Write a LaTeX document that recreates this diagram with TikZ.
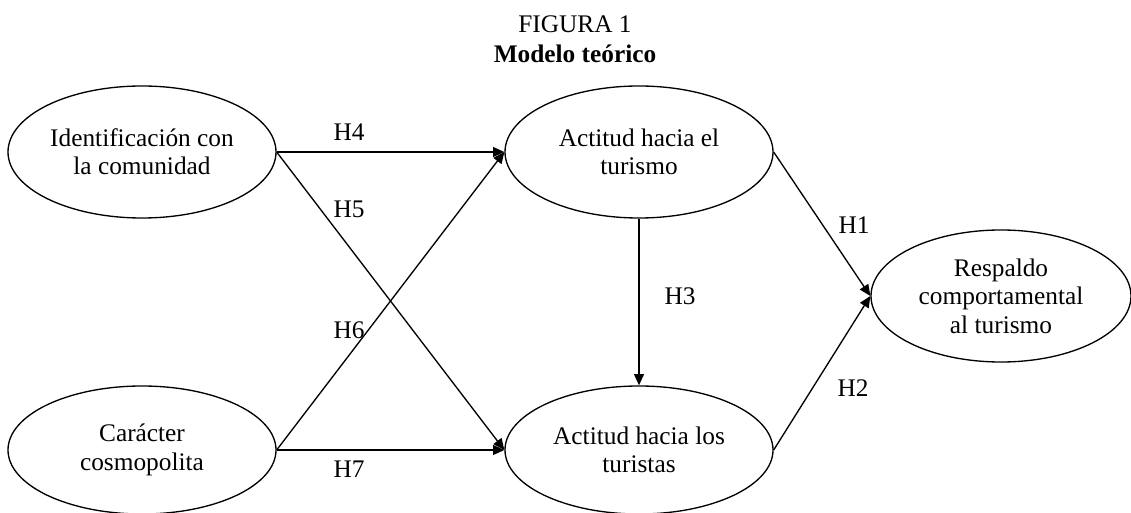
\documentclass[tikz,border=0pt]{standalone}
\usepackage{fontspec}
\setmainfont{Liberation Serif}
\usetikzlibrary{shapes.geometric,arrows.meta}

\begin{document}
\begin{tikzpicture}[x=0.75pt,y=-0.75pt,line width=1pt,
    every node/.style={font=\fontsize{19}{21.3}\selectfont},
    var/.style={draw,ellipse,align=center,inner sep=0pt,minimum width=201pt,minimum height=99pt},
    hyp/.style={-{Triangle[length=8.5pt,width=7.5pt]}}]
    \useasboundingbox (0,0) rectangle (1131,513);

    \node[anchor=base] (fig) at (575,33) {FIGURA 1};
    \node[anchor=base,font=\fontsize{19}{21.3}\selectfont\bfseries] (titulo) at (575,63) {Modelo teórico};

    \node[var] (ident) at (142,152) {Identificación con\\la comunidad};
    \node[var,minimum height=96pt] (cosmo) at (142,450) {Carácter\\cosmopolita};
    \node[var] (actur) at (639,152) {Actitud hacia el\\turismo};
    \node[var,minimum height=96pt] (actus) at (639,450) {Actitud hacia los\\turistas};
    \node[var,minimum width=195pt] (resp) at (1001,296) {Respaldo\\comportamental\\al turismo};

    \draw[hyp] (ident.east) -- (actur.west);
    \draw[hyp] (ident.east) -- (actus.west);
    \draw[hyp] (cosmo.east) -- (actur.west);
    \draw[hyp] (cosmo.east) -- (actus.west);
    \draw[hyp] (actur.south) -- (actus.north);
    \draw[hyp] (actur.east) -- (resp.west);
    \draw[hyp] (actus.east) -- (resp.west);

    \node (h4) at (349,132) {H4};
    \node (h5) at (349,209) {H5};
    \node (h6) at (349,330) {H6};
    \node (h7) at (349,469) {H7};
    \node (h3) at (680,296) {H3};
    \node (h1) at (854,225) {H1};
    \node (h2) at (853,388) {H2};
\end{tikzpicture}
\end{document}
